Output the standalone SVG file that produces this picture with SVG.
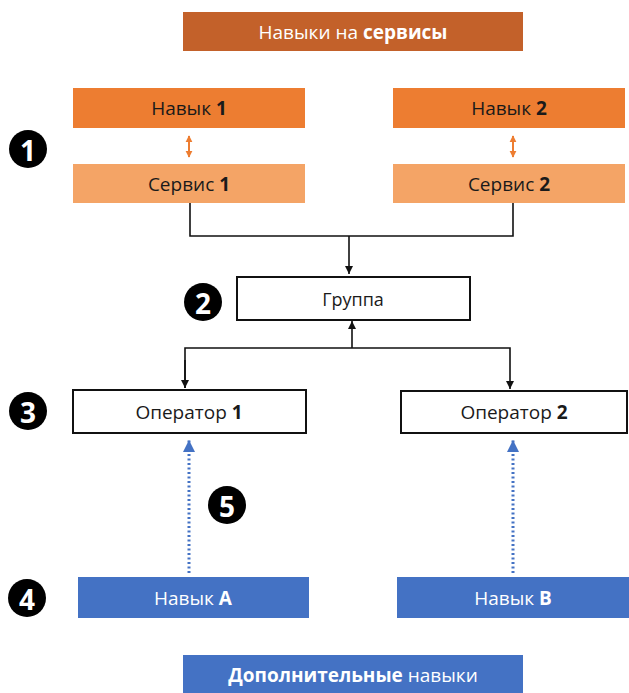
<svg xmlns="http://www.w3.org/2000/svg" width="629" height="693" viewBox="0 0 629 693">
  <style>
    text { font-family: "Open Sans", "Noto Sans", "Liberation Sans", sans-serif; font-size: 19px; text-anchor: middle; dominant-baseline: central; }
    .b { font-weight: bold; }
    .w { fill: #ffffff; }
    .k { fill: #1a1a1a; }
    .skill { fill: #ED7D31; }
    .svc { fill: #F4A466; }
    .head { fill: #C3612A; }
    .blue { fill: #4472C4; }
    .box { fill: #ffffff; stroke: #111111; stroke-width: 2; }
    .line { fill: none; stroke: #111111; stroke-width: 1.6; }
    .dot { fill: none; stroke: #4472C4; stroke-width: 3; stroke-dasharray: 2 2.5; }
    .orange { fill: none; stroke: #ED7D31; stroke-width: 2; }
    .num { fill: #000000; }
    .numt { fill: #ffffff; font-weight: bold; font-size: 28px; }
  </style>
  <defs>
    <marker id="ah" viewBox="0 0 10 10" refX="10" refY="5" markerWidth="8" markerHeight="8" markerUnits="userSpaceOnUse" orient="auto">
      <path d="M0,0 L10,5 L0,10 z" fill="#111111"/>
    </marker>
    <marker id="ahb" viewBox="0 0 10 10" refX="10" refY="5" markerWidth="12" markerHeight="12" markerUnits="userSpaceOnUse" orient="auto">
      <path d="M0,0 L10,5 L0,10 z" fill="#4472C4"/>
    </marker>
    <marker id="aho" viewBox="0 0 10 10" refX="9" refY="5" markerWidth="7" markerHeight="8" markerUnits="userSpaceOnUse" orient="auto">
      <path d="M0,0 L10,5 L0,10 z" fill="#ED7D31"/>
    </marker>
  </defs>

  <rect width="629" height="693" fill="#ffffff"/>

  <g id="title">
    <rect class="head" x="183" y="12" width="340" height="39"/>
    <text class="w" x="353" y="32">Навыки на <tspan class="b">сервисы</tspan></text>
  </g>

  <g id="skill1">
    <rect class="skill" x="73" y="88" width="232" height="40"/>
    <text class="k" x="189" y="108">Навык <tspan class="b">1</tspan></text>
  </g>
  <g id="service1">
    <rect class="svc" x="73" y="164" width="232" height="39"/>
    <text class="k" x="189" y="184">Сервис <tspan class="b">1</tspan></text>
  </g>
  <g id="skill2">
    <rect class="skill" x="393" y="88" width="232" height="40"/>
    <text class="k" x="509" y="108">Навык <tspan class="b">2</tspan></text>
  </g>
  <g id="service2">
    <rect class="svc" x="393" y="164" width="232" height="39"/>
    <text class="k" x="509" y="184">Сервис <tspan class="b">2</tspan></text>
  </g>

  <g id="group">
    <rect class="box" x="237" y="277" width="233" height="43"/>
    <text class="k" x="353" y="299" style="font-size:18px">Группа</text>
  </g>

  <g id="operator1">
    <rect class="box" x="73" y="390" width="233" height="43"/>
    <text class="k" x="189" y="412">Оператор <tspan class="b">1</tspan></text>
  </g>
  <g id="operator2">
    <rect class="box" x="401" y="391" width="226" height="42"/>
    <text class="k" x="514" y="412">Оператор <tspan class="b">2</tspan></text>
  </g>

  <g id="skillA">
    <rect class="blue" x="78" y="577" width="231" height="41"/>
    <text class="w" x="193" y="598">Навык  <tspan class="b">A</tspan></text>
  </g>
  <g id="skillB">
    <rect class="blue" x="397" y="577" width="232" height="41"/>
    <text class="w" x="513" y="598">Навык <tspan class="b">B</tspan></text>
  </g>

  <g id="extra">
    <rect class="blue" x="183" y="655" width="340" height="38"/>
    <text class="w" x="353" y="675"><tspan class="b">Дополнительные</tspan> навыки</text>
  </g>

  <g id="connectors">
    <!-- skill / service links -->
    <line class="orange" x1="189" y1="146" x2="189" y2="136" marker-end="url(#aho)"/>
    <line class="orange" x1="189" y1="146" x2="189" y2="157" marker-end="url(#aho)"/>
    <line class="orange" x1="513" y1="146" x2="513" y2="136" marker-end="url(#aho)"/>
    <line class="orange" x1="513" y1="146" x2="513" y2="157" marker-end="url(#aho)"/>
    <!-- services into group -->
    <polyline class="line" points="190,203 190,236 513,236 513,203"/>
    <line class="line" x1="349" y1="236" x2="349" y2="274" marker-end="url(#ah)"/>
    <!-- group to operators -->
    <line class="line" x1="352" y1="348" x2="352" y2="321" marker-end="url(#ah)"/>
    <polyline class="line" points="185,388 185,348 510,348 510,389" marker-end="url(#ah)"/>
    <line class="line" x1="185" y1="360" x2="185" y2="388" marker-end="url(#ah)"/>
    <!-- additional skills to operators -->
    <line class="dot" x1="189" y1="573" x2="189" y2="440" marker-end="url(#ahb)"/>
    <line class="dot" x1="513" y1="573" x2="513" y2="440" marker-end="url(#ahb)"/>
  </g>

  <g id="markers">
    <circle class="num" cx="28" cy="149" r="19"/>
    <text class="numt" x="28" y="150">1</text>
    <circle class="num" cx="203" cy="302" r="19"/>
    <text class="numt" x="203" y="303">2</text>
    <circle class="num" cx="28" cy="411" r="19"/>
    <text class="numt" x="28" y="412">3</text>
    <circle class="num" cx="27" cy="598" r="19"/>
    <text class="numt" x="27" y="599">4</text>
    <circle class="num" cx="227" cy="505" r="19"/>
    <text class="numt" x="227" y="506">5</text>
  </g>
</svg>
